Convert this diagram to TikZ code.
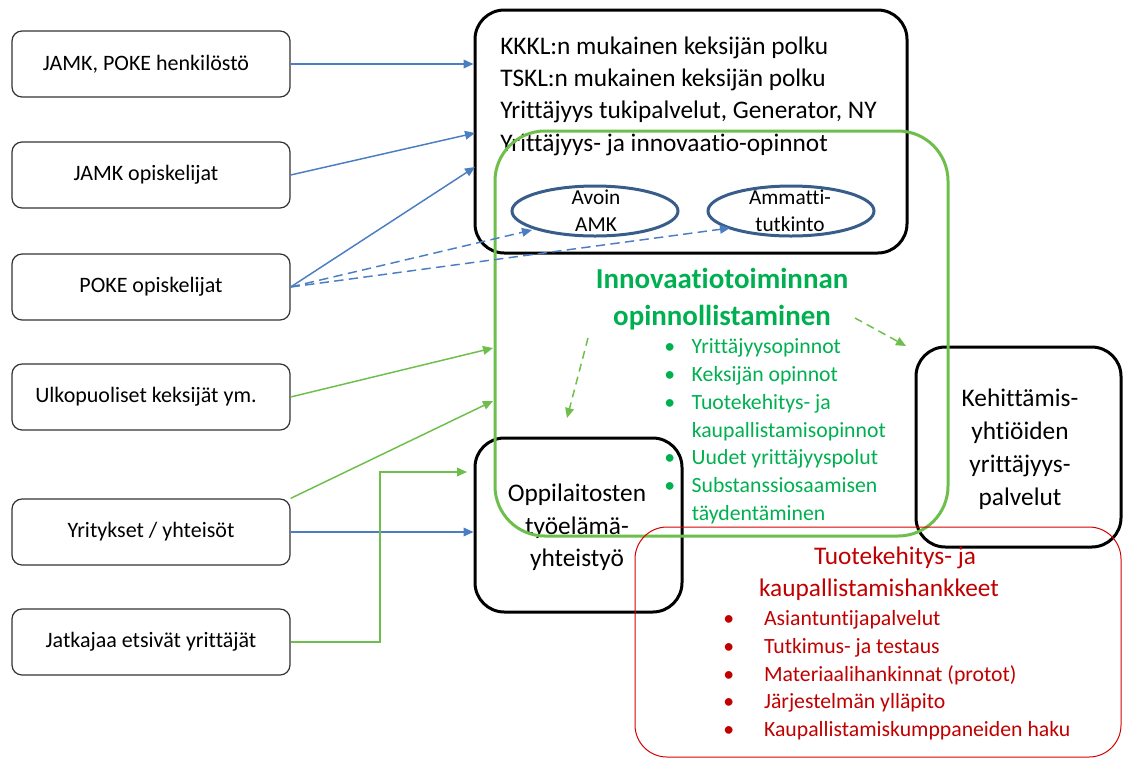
\documentclass[tikz,border=0pt]{standalone}
\usepackage{fontspec}
\setmainfont{Carlito}[Ligatures=NoCommon]
\usetikzlibrary{arrows.meta,shapes.geometric}

\definecolor{arrowblue}{RGB}{74,126,193}
\definecolor{ellblue}{RGB}{56,93,138}
\definecolor{boxgreen}{RGB}{110,190,75}
\definecolor{txtgreen}{RGB}{0,176,80}
\definecolor{txtred}{RGB}{192,0,0}
\definecolor{linered}{RGB}{214,0,0}

\newcommand{\fsz}[2]{\fontsize{#1}{#2}\selectfont}

\begin{document}
\begin{tikzpicture}[x=0.75pt,y=-0.75pt,
  srcbox/.style={draw=black!80, line width=0.9pt, rounded corners=7.5pt,
    minimum width=208.5pt, minimum height=49.5pt, inner sep=0pt, fill=white,
    font=\fsz{16.5}{20}},
  bigbox/.style={draw=black, line width=2.25pt, rounded corners=22pt, inner sep=0pt},
  ovalbox/.style={draw=ellblue, line width=2.25pt, ellipse, inner sep=0pt,
    minimum width=124.5pt, minimum height=37.5pt},
  tip/.style={-{Triangle[length=7.5pt,width=6.5pt]}},
  bluearrow/.style={tip, draw=arrowblue, line width=1.1pt},
  greenarrow/.style={tip, draw=boxgreen, line width=1.1pt},
  txt/.style={inner sep=0pt}
]
\useasboundingbox (0,0) rectangle (1123,758);

% source boxes on the left
\node[srcbox] (s1) at (151,64)  {JAMK, POKE henkilöstö\hspace*{7.5pt}};
\node[srcbox] (s2) at (151,175) {JAMK opiskelijat\hspace*{7.5pt}};
\node[srcbox] (s3) at (151,287) {POKE opiskelijat};
\node[srcbox] (s4) at (151,397) {Ulkopuoliset keksijät ym.\hspace*{7.5pt}};
\node[srcbox] (s5) at (151,532) {Yritykset / yhteisöt};
\node[srcbox] (s6) at (151,642) {Jatkajaa etsivät yrittäjät};

% services box at the top
\node[bigbox, minimum width=324pt, minimum height=182.25pt] (top) at (691,131.5) {};
\node[txt, anchor=west, align=left, font=\fsz{19}{24.25}] (toptext) at (500,96)
  {KKKL:n mukainen keksijän polku\\TSKL:n mukainen keksijän polku\\
   Yrittäjyys tukipalvelut, Generator, NY\\Yrittäjyys- ja innovaatio-opinnot};

% the two study routes
\node[ovalbox] (avoin) at (595,211) {};
\node[txt, align=center, font=\fsz{16}{20}] (avointext) at (596,210.5) {Avoin\\AMK};
\node[ovalbox] (amm) at (791,211) {};
\node[txt, align=center, font=\fsz{16}{20}] (ammtext) at (790,210.5) {Ammatti-\\tutkinto};

% working-life cooperation and development companies
\node[bigbox, minimum width=155.25pt, minimum height=130.5pt] (opp) at (578.5,525) {};
\node[txt, align=center, font=\fsz{19}{24.4}] (opptext) at (577,527.5)
  {Oppilaitosten\\työelämä-\\yhteistyö};
\node[bigbox, minimum width=153.75pt, minimum height=150pt] (keh) at (1018.5,447) {};
\node[txt, align=center, font=\fsz{19}{24.75}] (kehtext) at (1020,449.5)
  {Kehittämis-\\yhtiöiden\\yrittäjyys-\\palvelut};

% innovation activities turned into studies
\node[draw=boxgreen, line width=2.25pt, rounded corners=37.5pt, inner sep=0pt,
  minimum width=339.75pt, minimum height=303.75pt] (green) at (721.5,333.5) {};
\node[txt, align=center, text=txtgreen, font=\bfseries\fsz{21.7}{27.75}] (gtitle) at (722,299)
  {Innovaatiotoiminnan\\opinnollistaminen};
\node[txt, anchor=west, text=txtgreen, font=\fsz{16.3}{20.9}] (glist) at (664,431.5) {%
  \begin{tabular}{@{}c@{\hspace{12.5pt}}l@{}}
  \textbullet & Yrittäjyysopinnot\\
  \textbullet & Keksijän opinnot\\
  \textbullet & Tuotekehitys- ja\\
              & kaupallistamisopinnot\\
  \textbullet & Uudet yrittäjyyspolut\\
  \textbullet & Substanssiosaamisen\\
              & täydentäminen
  \end{tabular}};

% product development and commercialisation projects
\node[draw=linered, line width=0.75pt, rounded corners=24pt, inner sep=0pt,
  minimum width=364.5pt, minimum height=172.5pt] (red) at (878,642) {};
\node[txt, align=center, text=txtred, font=\fsz{19}{24}] (rtitle) at (879,574)
  {\hspace*{24pt}Tuotekehitys- ja\\kaupallistamishankkeet};
\node[txt, anchor=west, text=txtred, font=\fsz{16.3}{20.8}] (rlist) at (723,675.5) {%
  \begin{tabular}{@{}c@{\hspace{22.5pt}}l@{}}
  \textbullet & Asiantuntijapalvelut\\
  \textbullet & Tutkimus- ja testaus\\
  \textbullet & Materiaalihankinnat (protot)\\
  \textbullet & Järjestelmän ylläpito\\
  \textbullet & Kaupallistamiskumppaneiden haku
  \end{tabular}};

% arrow end points
\coordinate (t2) at (475,133);
\coordinate (t3) at (475,167);
\coordinate (ta) at (532,230);
\coordinate (tb) at (730,228);
\coordinate (t4) at (493,348);
\coordinate (t5) at (493,401);
\coordinate (e6) at (380,472);
\coordinate (t6) at (467,472);
\coordinate (d1s) at (588,338);
\coordinate (d1e) at (567,418);
\coordinate (d2s) at (855,318);
\coordinate (d2e) at (906,346);

% connectors
\draw[bluearrow] (s1.east) -- (s1.east -| top.west);
\draw[bluearrow] (s2.east) -- (t2);
\draw[bluearrow] (s3.east) -- (t3);
\draw[bluearrow, dashed, dash pattern=on 7pt off 4pt] (s3.east) -- (ta);
\draw[bluearrow, dashed, dash pattern=on 7pt off 4pt] (s3.east) -- (tb);
\draw[greenarrow] (s4.east) -- (t4);
\draw[greenarrow] (s5.north east) -- (t5);
\draw[bluearrow] (s5.east) -- (s5.east -| opp.west);
\draw[greenarrow] (s6.east) -| (e6) -- (t6);
\draw[greenarrow, dashed, dash pattern=on 6pt off 4pt] (d1s) -- (d1e);
\draw[greenarrow, dashed, dash pattern=on 6pt off 4pt] (d2s) -- (d2e);
\end{tikzpicture}
\end{document}
